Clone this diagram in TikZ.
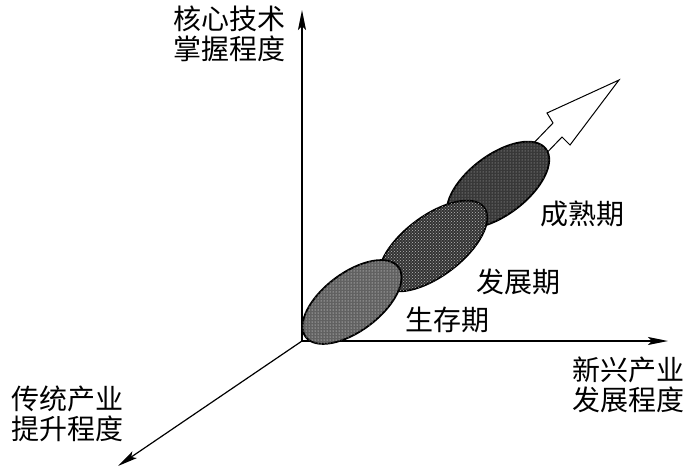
\documentclass[tikz,border=0pt]{standalone}
\usepackage{fontspec}
\newfontfamily\cjk{Noto Sans CJK SC}
\usetikzlibrary{positioning,arrows.meta,shapes.geometric,patterns}

\begin{document}
\begin{tikzpicture}[x=1pt, y=-1pt, axis/.style={line width=1.5pt, -{Stealth[length=20pt,width=8pt,inset=4pt]}}, stage/.style={ellipse, draw, line width=1.8pt, inner sep=0pt, rotate=37}, lbl/.style={font=\cjk\fontsize{28}{30}\selectfont, inner sep=0pt, align=center}]

\useasboundingbox (0,0) rectangle (688,469);

\coordinate (O) at (302,341);
\coordinate (up) at (302,10);
\coordinate (right) at (668,341);
\coordinate (down) at (118,466);

\draw[axis] (O) -- (up);
\draw[axis] (O) -- (right);
\draw[axis, line width=1.2pt] (O) -- (down);

% hollow growth arrow
\draw[line width=1pt, fill=white] (500,178) -- (553,123) -- (547,113) -- (619,80) -- (570,145) -- (562,137) -- (509,192) -- cycle;

\node[stage, fill=black!78, minimum width=120pt, minimum height=60pt, postaction={pattern=dots, pattern color=gray!50}] (mature) at (498,185) {};
\node[stage, fill=black!80, minimum width=128pt, minimum height=60pt, postaction={pattern=crosshatch dots, pattern color=gray!55}] (develop) at (433,246) {};
\node[stage, fill=black!62, minimum width=116pt, minimum height=58pt, postaction={pattern=dots, pattern color=white}] (survive) at (352,302) {};

\node[lbl] (survivelbl) at (447,320) {生存期};
\node[lbl] (developlbl) at (518,282) {发展期};
\node[lbl] (maturelbl) at (582,214) {成熟期};

\node[lbl] (ylbl) at (229,34) {核心技术\\掌握程度};
\node[lbl] (xlbl) at (628,385) {新兴产业\\发展程度};
\node[lbl] (zlbl) at (67,414) {传统产业\\提升程度};
\end{tikzpicture}
\end{document}
